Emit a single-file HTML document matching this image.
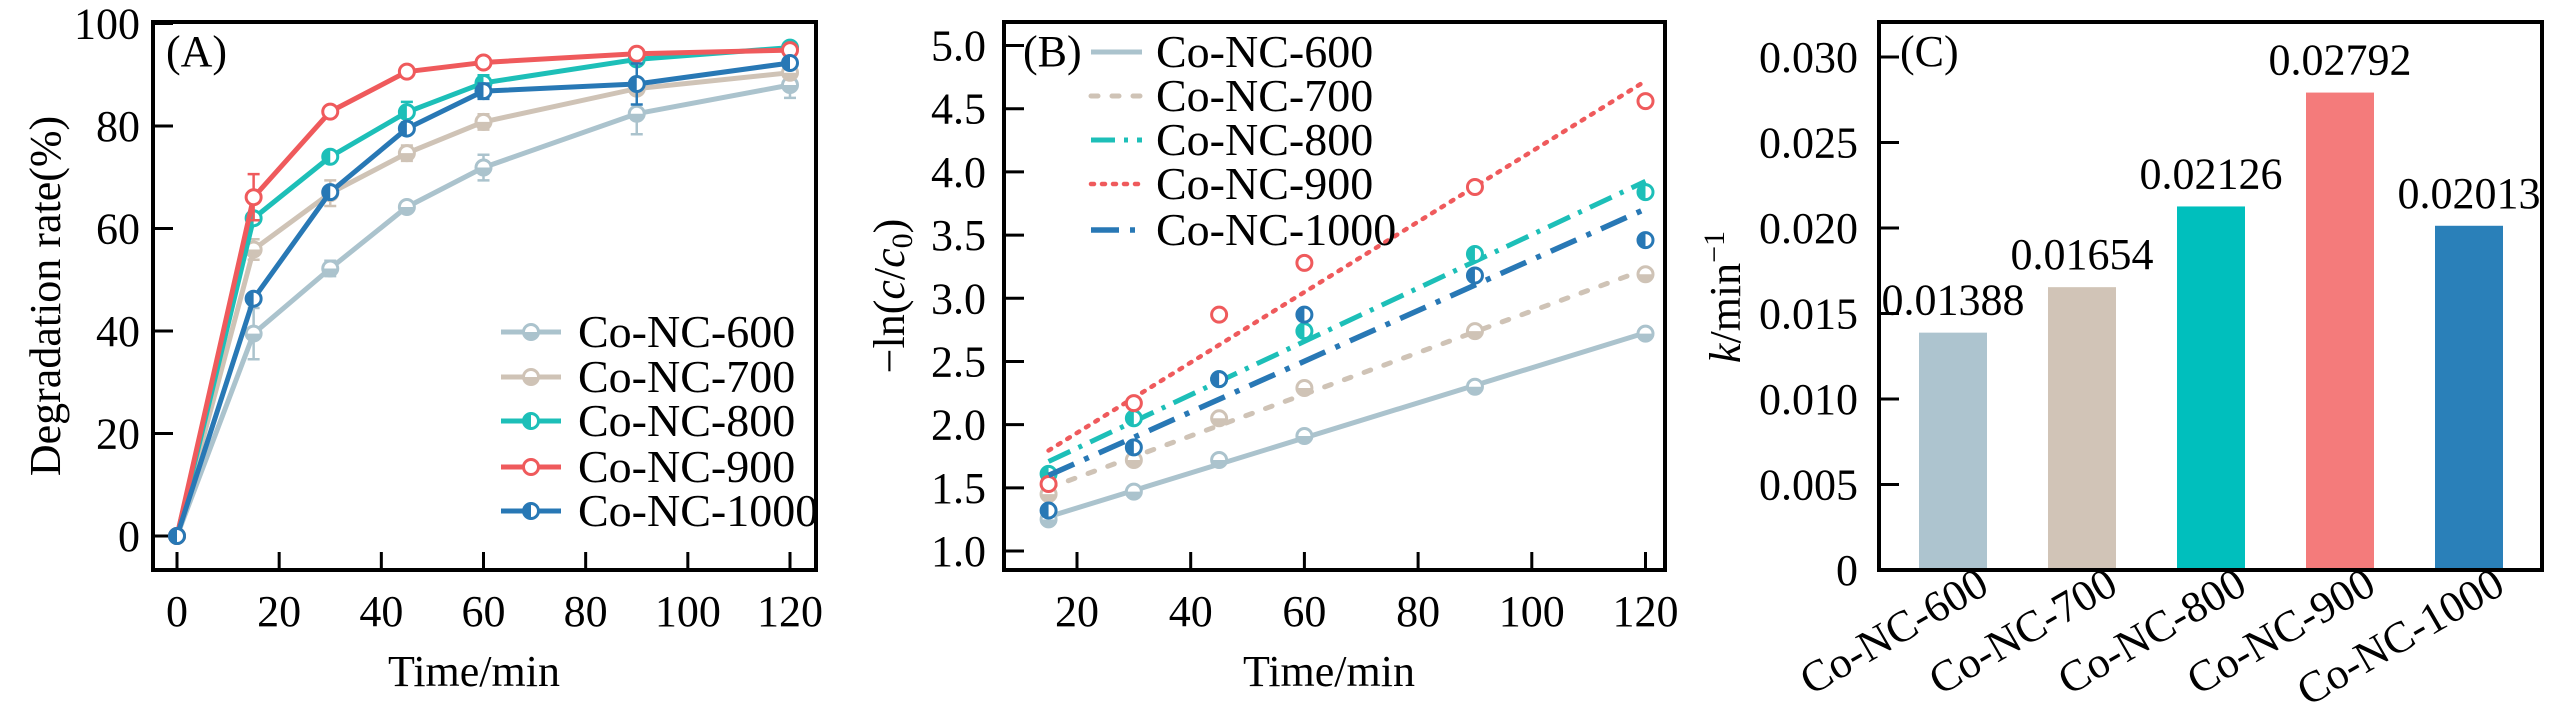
<!DOCTYPE html>
<html><head><meta charset="utf-8">
<style>
html,body{margin:0;padding:0;background:#fff;}
svg{display:block;font-family:"Liberation Serif","DejaVu Serif",serif;}
</style></head>
<body>
<svg id="fig" width="2567" height="710" viewBox="0 0 2567 710" xmlns="http://www.w3.org/2000/svg">
<g id="pa"></g>
<g id="pb"></g>
<g id="pc"></g>
</svg>
<script>
// ---- shared data ----
const seriesNames = ["Co-NC-600","Co-NC-700","Co-NC-800","Co-NC-900","Co-NC-1000"];
const seriesColors = ["#abc3cd","#cfc3b6","#1dbfb8","#ef5a5c","#2878b5"];
const markerTypes = ["bottom","bottom","left","open","left"];
// Panel A
const timesA = [0,15,30,45,60,90,120];
const degr600 = [0,39.5,52.2,64.2,71.9,82.4,88.0];
const degr700 = [0,55.9,66.9,74.7,80.8,87.3,90.4];
const degr800 = [0,62.0,74.0,82.7,88.4,93.0,95.3];
const degr900 = [0,66.1,82.8,90.6,92.4,94.1,94.8];
const degr1000 = [0,46.3,67.1,79.5,86.8,88.2,92.3];
const err600 = [0,5,1.5,1,2.5,4,2.5];
const err700 = [0,2,2.5,1.5,1.5,1,1];
const err800 = [0,1,1,2,1.5,1,0.5];
const err900 = [0,4.5,1,1,0.5,0.5,0.5];
const err1000 = [0,1,1,1,1.5,4,1];
const ticksAX = [0,20,40,60,80,100,120];
const ticksAY = [0,20,40,60,80,100];
// Panel B
const timesB = [15,30,45,60,90,120];
const ln600 = [1.25,1.47,1.72,1.91,2.30,2.72];
const ln700 = [1.45,1.72,2.05,2.29,2.74,3.19];
const ln800 = [1.61,2.05,2.36,2.74,3.35,3.84];
const ln900 = [1.53,2.17,2.87,3.28,3.88,4.56];
const ln1000 = [1.32,1.82,2.36,2.87,3.18,3.46];
const ticksBX = [20,40,60,80,100,120];
const ticksBY = [1.0,1.5,2.0,2.5,3.0,3.5,4.0,4.5,5.0];
// Panel C
const kValues = [0.01388,0.01654,0.02126,0.02792,0.02013];
const kLabels = ["0.01388","0.01654","0.02126","0.02792","0.02013"];
const ticksCY = [0,0.005,0.010,0.015,0.020,0.025,0.030];
const ticksCYLabels = ["0","0.005","0.010","0.015","0.020","0.025","0.030"];
const barColors = ["#adc4cf","#d1c4b7","#00bfbd","#f47b7b","#2a80b9"];

const NS="http://www.w3.org/2000/svg";
function mk(parent,tag,attrs,text){const e=document.createElementNS(NS,tag);for(const k in attrs)e.setAttribute(k,attrs[k]);if(text!==undefined)e.textContent=text;parent.appendChild(e);return e;}
function lin(d0,d1,r0,r1){return v=>r0+(v-d0)*(r1-r0)/(d1-d0);}
function marker(g,cx,cy,r,color,type){
  const c=mk(g,'circle',{cx:cx,cy:cy,r:r,fill:'#fff',stroke:color,'stroke-width':3});
  
  
  let d=null;
  if(type==='bottom') d=`M${cx-r},${cy} A${r},${r} 0 0 0 ${cx+r},${cy} Z`;
  if(type==='left') d=`M${cx},${cy-r} A${r},${r} 0 0 0 ${cx},${cy+r} Z`;
  if(d){const p=mk(g,'path',{d:d,fill:color});
    
    }
}
function frame(g,x0,y0,x1,y1){
  const r=mk(g,'rect',{x:x0,y:y0,width:x1-x0,height:y1-y0,fill:'none',stroke:'#000','stroke-width':4});
  
  
}
const FS=44;

// ---------- Panel A ----------
(function(){
  const g=document.getElementById('pa');
  const L=153,R=816,T=22,B=570;
  const sx=lin(0,120,177,790), sy=lin(0,80,536,126);
  const dataA=[degr600,degr700,degr800,degr900,degr1000];
  const errA=[err600,err700,err800,err900,err1000];
  frame(g,L,T,R,B);
  ticksAX.forEach(v=>{
    const t=mk(g,'line',{x1:sx(v),x2:sx(v),y1:B,y2:B-18,stroke:'#000','stroke-width':3});
    
    
    const l=mk(g,'text',{x:sx(v),y:626,'font-size':FS,'text-anchor':'middle'},String(v));
    
    
  });
  ticksAY.forEach(v=>{
    const t=mk(g,'line',{x1:L,x2:L+20,y1:sy(v),y2:sy(v),stroke:'#000','stroke-width':3});
    
    
    const l=mk(g,'text',{x:140,y:sy(v)+15,'font-size':FS,'text-anchor':'end'},String(v));
    
    
  });
  dataA.forEach((arr,i)=>{
    const sg=mk(g,'g',{});
    
    
    const pts=arr.map((v,j)=>sx(timesA[j])+','+sy(v)).join(' ');
    const pl=mk(sg,'polyline',{points:pts,fill:'none',stroke:seriesColors[i],'stroke-width':5,'stroke-linejoin':'round'});
    
    
    arr.forEach((v,j)=>{
      const e=errA[i][j];
      if(e>0){
        const x=sx(timesA[j]);
        const eb=mk(sg,'path',{d:`M${x},${sy(v-e)}V${sy(v+e)}M${x-6},${sy(v-e)}H${x+6}M${x-6},${sy(v+e)}H${x+6}`,stroke:seriesColors[i],'stroke-width':2.5,fill:'none'});
        
        
      }
      marker(sg,sx(timesA[j]),sy(v),7.5,seriesColors[i],markerTypes[i]);
    });
  });
  const rows=[332,377,421,467,511];
  seriesNames.forEach((n,i)=>{
    const lg=mk(g,'g',{});
    
    
    mk(lg,'line',{x1:501,x2:561,y1:rows[i],y2:rows[i],stroke:seriesColors[i],'stroke-width':5});
    marker(lg,531,rows[i],7.5,seriesColors[i],markerTypes[i]);
    mk(lg,'text',{x:578,y:rows[i]+15,'font-size':46},n);
  });
  const pl=mk(g,'text',{x:166,y:66,'font-size':44},'(A)');
  
  
  const xt=mk(g,'text',{x:474,y:686,'font-size':44,'text-anchor':'middle'},'Time/min');
  
  
  const yt=mk(g,'text',{x:0,y:0,'font-size':44,'text-anchor':'middle',transform:'translate(60,296) rotate(-90)'},'Degradation rate(%)');
  
  
})();

// ---------- Panel B ----------
(function(){
  const g=document.getElementById('pb');
  const L=1004,R=1665,T=22,B=570;
  const sx=lin(20,120,1077,1645.5), sy=lin(1,5,551,45.5);
  const dataB=[ln600,ln700,ln800,ln900,ln1000];
  const dashes=["none","7,14","24,9,4,9","3,8","28,11,5,11"];
  const widths=[5,5,5,4.5,5.5];
  frame(g,L,T,R,B);
  ticksBX.forEach(v=>{
    const t=mk(g,'line',{x1:sx(v),x2:sx(v),y1:B,y2:B-18,stroke:'#000','stroke-width':3});
    
    
    const l=mk(g,'text',{x:sx(v),y:626,'font-size':FS,'text-anchor':'middle'},String(v));
    
    
  });
  ticksBY.forEach(v=>{
    const t=mk(g,'line',{x1:L,x2:L+20,y1:sy(v),y2:sy(v),stroke:'#000','stroke-width':3});
    
    
    const l=mk(g,'text',{x:986,y:sy(v)+15,'font-size':FS,'text-anchor':'end'},v.toFixed(1));
    
    
  });
  dataB.forEach((arr,i)=>{
    const sg=mk(g,'g',{});
    
    
    // least-squares fit
    const n=arr.length, mx=timesB.reduce((a,b)=>a+b)/n, my=arr.reduce((a,b)=>a+b)/n;
    let sxy=0,sxx=0;timesB.forEach((t,j)=>{sxy+=(t-mx)*(arr[j]-my);sxx+=(t-mx)*(t-mx);});
    const k=sxy/sxx, b0=my-k*mx;
    const fl=mk(sg,'line',{x1:sx(15),y1:sy(b0+k*15),x2:sx(120),y2:sy(b0+k*120),stroke:seriesColors[i],'stroke-width':widths[i],'stroke-dasharray':dashes[i],'stroke-linecap':i===3||i===1?'round':'butt'});
    
    
    arr.forEach((v,j)=>marker(sg,sx(timesB[j]),sy(v),7.5,seriesColors[i],markerTypes[i]));
  });
  const rows=[52,96,140,184,230];
  seriesNames.forEach((n,i)=>{
    const lg=mk(g,'g',{});
    
    
    mk(lg,'line',{x1:1091,x2:1142,y1:rows[i],y2:rows[i],stroke:seriesColors[i],'stroke-width':widths[i],'stroke-dasharray':dashes[i],'stroke-linecap':i===3||i===1?'round':'butt'});
    mk(lg,'text',{x:1156,y:rows[i]+15,'font-size':46},n);
  });
  const pl=mk(g,'text',{x:1023,y:66,'font-size':44},'(B)');
  
  
  const xt=mk(g,'text',{x:1329,y:686,'font-size':44,'text-anchor':'middle'},'Time/min');
  
  
  const yt=mk(g,'text',{x:0,y:0,'font-size':44,'text-anchor':'middle',transform:'translate(904,296) rotate(-90)'});
  
  
  yt.innerHTML='\u2212ln(<tspan font-style="italic">c</tspan>/<tspan font-style="italic">c</tspan><tspan font-size="30" dy="8">0</tspan><tspan dy="-8">)</tspan>';
})();

// ---------- Panel C ----------
(function(){
  const g=document.getElementById('pc');
  const L=1879,R=2542,T=22,B=570;
  const sy=lin(0,0.030,570,57);
  const centers=[1953,2082,2211,2340,2469];
  const bw=68;
  frame(g,L,T,R,B);
  ticksCY.forEach((v,i)=>{
    const t=mk(g,'line',{x1:L,x2:L+20,y1:sy(v),y2:sy(v),stroke:'#000','stroke-width':3});
    
    
    const l=mk(g,'text',{x:1858,y:sy(v)+15,'font-size':FS,'text-anchor':'end'},ticksCYLabels[i]);
    
    
  });
  kValues.forEach((v,i)=>{
    const r=mk(g,'rect',{x:centers[i]-bw/2,y:sy(v),width:bw,height:sy(0)-sy(v)-2,fill:barColors[i]});
    
    
    const vl=mk(g,'text',{x:centers[i],y:sy(v)-18,'font-size':44,'text-anchor':'middle'},kLabels[i]);
    
    
    const xl=mk(g,'text',{x:0,y:0,'font-size':44,'text-anchor':'end',transform:`translate(${centers[i]+38},${592}) rotate(-30)`},seriesNames[i]);
    
    
  });
  const pl=mk(g,'text',{x:1900,y:66,'font-size':44},'(C)');
  
  
  const yt=mk(g,'text',{x:0,y:0,'font-size':44,'text-anchor':'middle',transform:'translate(1740,297) rotate(-90)'});
  
  
  yt.innerHTML='<tspan font-style="italic">k</tspan>/min<tspan font-size="30" dy="-16">\u22121</tspan>';
})();
</script>
</body></html>
